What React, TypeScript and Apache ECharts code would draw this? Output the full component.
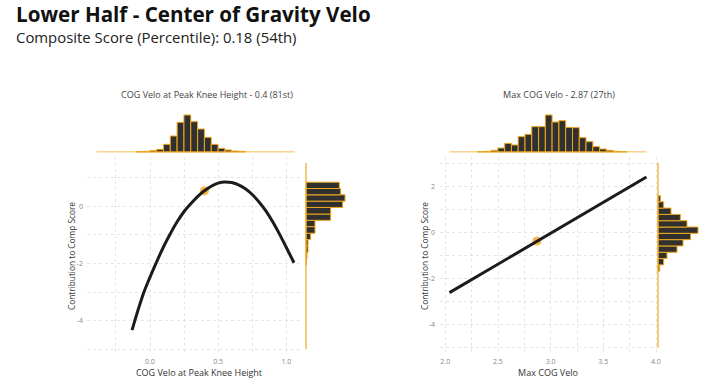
import React, { useEffect, useRef } from "react";
import * as echarts from "echarts";

// ---- Left panel: COG Velo at Peak Knee Height ----
const leftCurveX = [-0.13, -0.05, 0.0, 0.05, 0.1, 0.15, 0.2, 0.25, 0.3, 0.35, 0.4, 0.45, 0.5, 0.55, 0.6, 0.65, 0.7, 0.75, 0.8, 0.85, 0.9, 0.95, 1.0, 1.056];
const leftCurveY = [-4.33, -3.1, -2.5, -1.95, -1.43, -0.97, -0.55, -0.2, 0.08, 0.33, 0.53, 0.69, 0.8, 0.84, 0.82, 0.74, 0.6, 0.4, 0.14, -0.17, -0.55, -0.98, -1.45, -1.98];
const leftPoint = [0.4, 0.53];
const leftTopEdges = [-0.1, -0.05, 0.0, 0.05, 0.1, 0.15, 0.2, 0.25, 0.3, 0.35, 0.4, 0.45, 0.5, 0.55, 0.6, 0.65, 0.7];
const leftTopCounts = [1, 2, 4, 8, 23, 48, 89, 111, 91, 69, 44, 23, 11, 6, 3, 2];
const leftSideEdges = [-2.06, -1.84, -1.62, -1.39, -1.17, -0.95, -0.72, -0.5, -0.28, -0.05, 0.17, 0.39, 0.61, 0.83];
const leftSideCounts = [1, 3, 6, 6, 14, 27, 27, 74, 74, 110, 117, 104, 100];
const leftXLabels = [0, 0.5, 1.0];
const leftXGrid = [-0.25, 0, 0.25, 0.5, 0.75, 1.0];
const leftYLabels = [0, -2, -4];
const leftYGrid = [1, 0, -1, -2, -3, -4, -5];

// ---- Right panel: Max COG Velo ----
const rightLineX = [2.04, 3.91];
const rightLineY = [-2.61, 2.41];
const rightPoint = [2.87, -0.37];
const rightTopEdges = [2.306, 2.37, 2.435, 2.499, 2.564, 2.628, 2.692, 2.757, 2.821, 2.886, 2.95, 3.014, 3.079, 3.143, 3.208, 3.272, 3.336, 3.401, 3.465, 3.53, 3.594, 3.658, 3.723];
const rightTopCounts = [1, 2, 5, 12, 26, 21, 46, 53, 76, 76, 111, 90, 94, 74, 73, 43, 31, 16, 9, 5, 2, 1];
const rightSideEdges = [-1.678, -1.404, -1.13, -0.856, -0.582, -0.308, -0.034, 0.24, 0.514, 0.788, 1.062, 1.336, 1.61];
const rightSideCounts = [5, 17, 27, 57, 75, 98, 120, 87, 67, 39, 17, 7];
const rightXLabels = [2.0, 2.5, 3.0, 3.5, 4.0];
const rightXGrid = [2.0, 2.25, 2.5, 2.75, 3.0, 3.25, 3.5, 3.75, 4.0];
const rightYLabels = [2, 0, -2, -4];
const rightYGrid = [3, 2, 1, 0, -1, -2, -3, -4, -5];

const titleText = "Lower Half - Center of Gravity Velo";
const subtitleText = "Composite Score (Percentile): 0.18 (54th)";
const leftTitle = "COG Velo at Peak Knee Height - 0.4 (81st)";
const rightTitle = "Max COG Velo - 2.87 (27th)";
const leftXName = "COG Velo at Peak Knee Height";
const rightXName = "Max COG Velo";
const yName = "Contribution to Comp Score";

const GOLD = "#EFA81C";
const DOT = "#F7A41D";
const BAR = "#303030";
const FONT = '"Open Sans"';

function bins(edges: number[], counts: number[]) {
  return counts.map((c, i) => [edges[i], edges[i + 1], c]);
}

const topRender = (params: any, api: any) => {
  const p0 = api.coord([api.value(0), 0]);
  const p1 = api.coord([api.value(1), api.value(2)]);
  return {
    type: "rect",
    shape: { x: p0[0], y: p1[1], width: p1[0] - p0[0], height: p0[1] - p1[1] },
    style: { fill: BAR, stroke: GOLD, lineWidth: 1 },
  };
};
const sideRender = (params: any, api: any) => {
  const p0 = api.coord([0, api.value(0)]);
  const p1 = api.coord([api.value(2), api.value(1)]);
  return {
    type: "rect",
    shape: { x: p0[0], y: p1[1], width: p1[0] - p0[0], height: p0[1] - p1[1] },
    style: { fill: BAR, stroke: GOLD, lineWidth: 1 },
  };
};

const gridLine = { show: true, lineStyle: { color: "#dedede", type: [3, 3], width: 0.8 } };

function mainAxis(gi: number, min: number, max: number, gridVals: number[], labels: number[], digits: number, margin: number) {
  return {
    type: "value", gridIndex: gi, min, max,
    axisLine: { show: false },
    axisTick: { show: true, length: 0, lineStyle: { color: "#ffffff", width: 0 }, customValues: gridVals },
    axisLabel: {
      show: true, customValues: labels, color: "#888", fontSize: 7, fontFamily: FONT, margin,
      hideOverlap: false,
      formatter: (v: number) => (labels.some((t) => Math.abs(t - v) < 1e-6) ? v.toFixed(digits) : ""),
    },
    splitLine: { ...gridLine, showMinLine: true, showMaxLine: true },
  };
}
const hidden = (gi: number, min: number, max: number) => ({ type: "value", gridIndex: gi, min, max, show: false, splitLine: { show: false } });

export default function App() {
  const ref = useRef<HTMLDivElement>(null);
  useEffect(() => {
    if (!ref.current) return;
    const chart = echarts.init(ref.current, undefined, { renderer: "svg" });
    const LX = [-0.46, 1.1];
    const LY = [-5.13, 1.71];
    const RX = [1.95, 4.01];
    const RY = [-5.23, 3.28];
    const option: any = {
      animation: false,
      backgroundColor: "#ffffff",
      grid: [
        { left: 87, top: 157, width: 213, height: 196 },
        { left: 87, top: 112, width: 213, height: 40 },
        { left: 306, top: 157, width: 45, height: 196 },
        { left: 440, top: 157, width: 217, height: 196 },
        { left: 440, top: 112, width: 217, height: 40 },
        { left: 658, top: 157, width: 45, height: 196 },
      ],
      xAxis: [
        mainAxis(0, LX[0], LX[1], leftXGrid, leftXLabels, 1, 5),
        hidden(1, LX[0], LX[1]),
        hidden(2, 0, 135),
        mainAxis(3, RX[0], RX[1], rightXGrid, rightXLabels, 1, 5),
        hidden(4, RX[0], RX[1]),
        hidden(5, 0, 135),
      ],
      yAxis: [
        mainAxis(0, LY[0], LY[1], leftYGrid, leftYLabels, 0, 4),
        hidden(1, 0, 120),
        hidden(2, LY[0], LY[1]),
        mainAxis(3, RY[0], RY[1], rightYGrid, rightYLabels, 0, 5),
        hidden(4, 0, 120),
        hidden(5, RY[0], RY[1]),
      ],
      series: [
        {
          type: "line", xAxisIndex: 0, yAxisIndex: 0, smooth: 0.4, showSymbol: false, symbol: "none",
          data: leftCurveX.map((x, i) => [x, leftCurveY[i]]),
          lineStyle: { color: "#1c1c1c", width: 3 },
        },
        {
          type: "scatter", xAxisIndex: 0, yAxisIndex: 0, symbolSize: 9, data: [leftPoint],
          itemStyle: { color: DOT },
        },
        {
          type: "line", xAxisIndex: 1, yAxisIndex: 1, symbol: "none",
          data: [[-0.39, 0], [1.06, 0]], lineStyle: { color: GOLD, width: 1.2 },
        },
        {
          type: "custom", xAxisIndex: 1, yAxisIndex: 1, renderItem: topRender,
          encode: { x: [0, 1], y: 2 }, data: bins(leftTopEdges, leftTopCounts),
        },
        {
          type: "line", xAxisIndex: 2, yAxisIndex: 2, symbol: "none",
          data: [[0, 1.5], [0, -5]], lineStyle: { color: GOLD, width: 1.2 },
        },
        {
          type: "custom", xAxisIndex: 2, yAxisIndex: 2, renderItem: sideRender,
          encode: { x: 2, y: [0, 1] }, data: bins(leftSideEdges, leftSideCounts),
        },
        {
          type: "line", xAxisIndex: 3, yAxisIndex: 3, symbol: "none",
          data: rightLineX.map((x, i) => [x, rightLineY[i]]),
          lineStyle: { color: "#1c1c1c", width: 3 },
        },
        {
          type: "scatter", xAxisIndex: 3, yAxisIndex: 3, symbolSize: 9, data: [rightPoint],
          itemStyle: { color: DOT },
        },
        {
          type: "line", xAxisIndex: 4, yAxisIndex: 4, symbol: "none",
          data: [[2.04, 0], [3.91, 0]], lineStyle: { color: GOLD, width: 1.2 },
        },
        {
          type: "custom", xAxisIndex: 4, yAxisIndex: 4, renderItem: topRender,
          encode: { x: [0, 1], y: 2 }, data: bins(rightTopEdges, rightTopCounts),
        },
        {
          type: "line", xAxisIndex: 5, yAxisIndex: 5, symbol: "none",
          data: [[0, 3.04], [0, -5]], lineStyle: { color: GOLD, width: 1.2 },
        },
        {
          type: "custom", xAxisIndex: 5, yAxisIndex: 5, renderItem: sideRender,
          encode: { x: 2, y: [0, 1] }, data: bins(rightSideEdges, rightSideCounts),
        },
      ],
      graphic: [
        { type: "text", x: 16, y: 14, style: { text: titleText, font: `bold 20.6px ${FONT}`, fill: "#111", textAlign: "left", textVerticalAlign: "middle" } },
        { type: "text", x: 16, y: 37, style: { text: subtitleText, font: `14.9px ${FONT}`, fill: "#222", textAlign: "left", textVerticalAlign: "middle" } },
        { type: "text", x: 207, y: 94, style: { text: leftTitle, font: `9px ${FONT}`, fill: "#444", textAlign: "center", textVerticalAlign: "middle" } },
        { type: "text", x: 559, y: 94, style: { text: rightTitle, font: `9px ${FONT}`, fill: "#444", textAlign: "center", textVerticalAlign: "middle" } },
        { type: "text", x: 199, y: 372, style: { text: leftXName, font: `9px ${FONT}`, fill: "#333", textAlign: "center", textVerticalAlign: "middle" } },
        { type: "text", x: 548, y: 372, style: { text: rightXName, font: `9px ${FONT}`, fill: "#333", textAlign: "center", textVerticalAlign: "middle" } },
        { type: "text", x: 71, y: 256, rotation: Math.PI / 2, style: { text: yName, font: `8.3px ${FONT}`, fill: "#333", textAlign: "center", textVerticalAlign: "middle" } },
        { type: "text", x: 424, y: 256, rotation: Math.PI / 2, style: { text: yName, font: `8.3px ${FONT}`, fill: "#333", textAlign: "center", textVerticalAlign: "middle" } },
      ],
    };
    chart.setOption(option);
    return () => chart.dispose();
  }, []);
  return <div ref={ref} style={{ position: "absolute", left: 0, top: 0, width: 720, height: 385 }} />;
}
